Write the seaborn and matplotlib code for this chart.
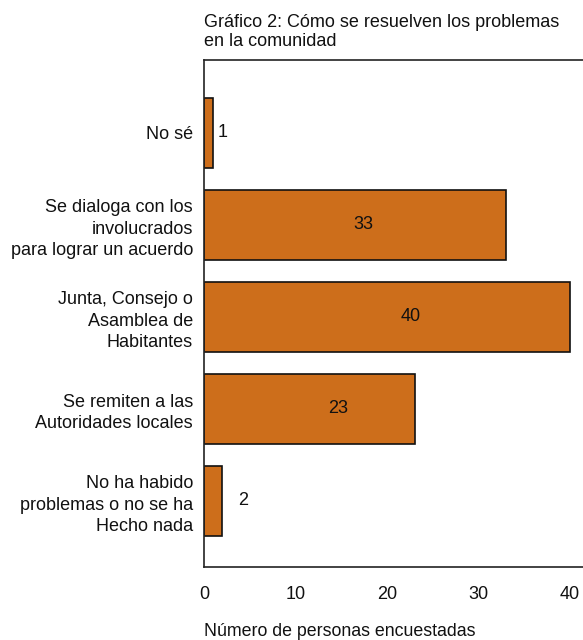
import matplotlib
matplotlib.use("Agg")
import matplotlib.pyplot as plt
import seaborn as sns
import pandas as pd

sns.set_theme(style="white")
plt.rcParams["font.family"] = ["Liberation Sans", "DejaVu Sans"]

# Data
categories = [
    "No sé",
    "Se dialoga con los\ninvolucrados\npara lograr un acuerdo",
    "Junta, Consejo o\nAsamblea de\nHabitantes",
    "Se remiten a las\nAutoridades locales",
    "No ha habido\nproblemas o no se ha\nHecho nada",
]
values = [1, 33, 40, 23, 2]
# where each count label sits along the x axis
label_x = [2.0, 17.4, 22.6, 14.6, 4.3]
df = pd.DataFrame({"Categoria": categories, "Personas": values})

FS = 13

fig = plt.figure(figsize=(5.83, 6.4), dpi=100)
ax = fig.add_axes([0.35, 0.114, 0.65, 0.792])

sns.barplot(data=df, y="Categoria", x="Personas", orient="h", color="#CD6E1B",
            saturation=1, edgecolor="#111111", linewidth=1.2, width=0.76, ax=ax)

for i, (v, lx) in enumerate(zip(values, label_x)):
    ax.text(lx, i, str(v), ha="center", va="center", fontsize=FS, color="#111111")

ax.set_xlim(0, 41.4)
ax.set_ylim(4.72, -0.79)
ax.set_xticks([0, 10, 20, 30, 40])
ax.tick_params(axis="x", length=0, pad=14, labelsize=FS, colors="#111111")
ax.tick_params(axis="y", length=0, pad=8, labelsize=FS, colors="#111111")
for lbl in ax.get_yticklabels():
    lbl.set_linespacing(1.35)
    lbl.set_multialignment("right")

for side in ["left", "bottom", "top"]:
    ax.spines[side].set_color("#222222")
    ax.spines[side].set_linewidth(1.2)
ax.spines["right"].set_visible(False)

ax.set_ylabel("")
ax.set_xlabel("Número de personas encuestadas", fontsize=12.8, color="#111111")
ax.xaxis.set_label_coords(0.0, -0.11)
ax.xaxis.label.set_horizontalalignment("left")

ax.set_title("Gráfico 2: Cómo se resuelven los problemas\nen la comunidad",
             loc="left", fontsize=FS, color="#111111", pad=10, linespacing=1.2)

plt.savefig("out.png", dpi=100)
plt.close()
